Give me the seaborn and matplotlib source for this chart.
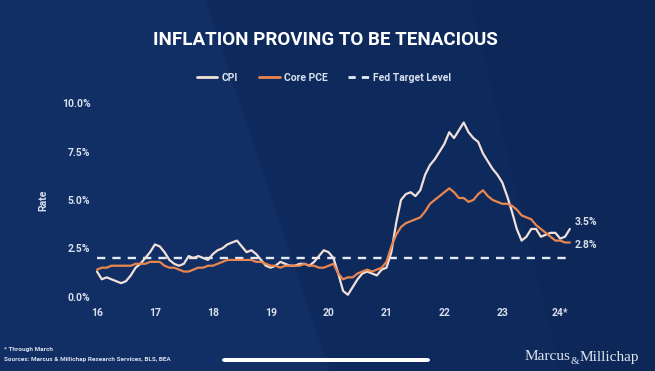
import numpy as np
import pandas as pd
import matplotlib
matplotlib.use("Agg")
import matplotlib.pyplot as plt
import matplotlib.font_manager as fm
import seaborn as sns
from matplotlib.patches import FancyBboxPatch, Polygon
from matplotlib.lines import Line2D

# ---------------- data ----------------
start_year = 16  # Jan 2016
cpi = [
    1.3, 0.9, 1.0, 0.9, 0.8, 0.7, 0.8, 1.1, 1.5, 1.7, 2.0, 2.3,   # 2016
    2.7, 2.6, 2.3, 1.9, 1.7, 1.6, 1.7, 2.1, 2.0, 2.1, 2.0, 1.9,   # 2017
    2.2, 2.4, 2.5, 2.7, 2.8, 2.9, 2.6, 2.3, 2.4, 2.2, 1.9, 1.6,   # 2018
    1.5, 1.6, 1.8, 1.7, 1.6, 1.6, 1.7, 1.7, 1.6, 1.8, 2.1, 2.4,   # 2019
    2.3, 2.0, 1.2, 0.3, 0.1, 0.5, 0.9, 1.2, 1.3, 1.2, 1.1, 1.4,   # 2020
    1.5, 2.3, 3.8, 5.0, 5.3, 5.4, 5.2, 5.5, 6.3, 6.8, 7.1, 7.5,   # 2021
    7.9, 8.5, 8.2, 8.6, 9.0, 8.5, 8.2, 8.0, 7.4, 7.0, 6.6, 6.3,   # 2022
    5.9, 5.2, 4.4, 3.5, 2.9, 3.1, 3.5, 3.5, 3.1, 3.2, 3.3, 3.3,   # 2023
    3.0, 3.1, 3.5,                                                # 2024 (through March)
]
core_pce = [
    1.4, 1.5, 1.5, 1.6, 1.6, 1.6, 1.6, 1.6, 1.7, 1.7, 1.7, 1.8,   # 2016
    1.8, 1.8, 1.6, 1.5, 1.5, 1.4, 1.3, 1.3, 1.4, 1.5, 1.5, 1.6,   # 2017
    1.6, 1.7, 1.8, 1.9, 1.9, 1.9, 1.9, 1.9, 1.9, 1.8, 1.8, 1.7,   # 2018
    1.6, 1.6, 1.5, 1.6, 1.6, 1.6, 1.6, 1.7, 1.6, 1.6, 1.5, 1.5,   # 2019
    1.6, 1.7, 1.2, 0.9, 1.0, 1.0, 1.2, 1.3, 1.4, 1.3, 1.4, 1.5,   # 2020
    1.8, 2.6, 3.2, 3.6, 3.8, 3.9, 4.0, 4.1, 4.4, 4.8, 5.0, 5.2,   # 2021
    5.4, 5.6, 5.4, 5.1, 5.1, 4.9, 5.0, 5.3, 5.5, 5.2, 5.0, 4.9,   # 2022
    4.8, 4.8, 4.7, 4.5, 4.2, 4.1, 4.0, 3.7, 3.5, 3.3, 3.1, 2.9,   # 2023
    2.9, 2.8, 2.8,                                                # 2024
]
fed_target = 2.0
series_names = ["CPI", "Core PCE"]
legend_labels = ["CPI", "Core PCE", "Fed Target Level"]
x_ticks = [16, 17, 18, 19, 20, 21, 22, 23, 24]
x_tick_labels = ["16", "17", "18", "19", "20", "21", "22", "23", "24*"]
y_ticks = [0.0, 2.5, 5.0, 7.5, 10.0]
end_labels = ["3.5%", "2.8%"]


def FP(size, weight="bold"):
    return fm.FontProperties(family=["Roboto", "DejaVu Sans"], weight=weight, size=size)


# ---------------- styling ----------------
BG = "#0e2a5c"
TXT = "#d9e0ee"
CPI_C = "#f2e0da"
PCE_C = "#e98650"
FED_C = "#e3ebf6"

sns.set_theme(style="white")
plt.rcParams["font.family"] = ["Roboto", "DejaVu Sans"]

W, H = 655, 371
fig = plt.figure(figsize=(W / 100, H / 100), dpi=100, facecolor=BG)

# subtle lighter diagonal band in background
band = Polygon([(0, 1), (205 / W, 1), (330 / W, 0), (0, 0)], closed=True,
               transform=fig.transFigure, facecolor="#112f64", edgecolor="none", zorder=-10)
fig.patches.append(band)
band3 = Polygon([(470 / W, 1), (W / W, 1), (1, 0), (560 / W, 0)], closed=True,
                transform=fig.transFigure, facecolor="#0d2858", edgecolor="none", zorder=-10)
fig.patches.append(band3)

L, R, T, B = 96, 600, 100, 298
ax = fig.add_axes([L / W, 1 - B / H, (R - L) / W, (B - T) / H])
ax.set_facecolor("none")
ax.set_zorder(5)

n = len(cpi)
t = start_year + np.arange(n) / 12.0
df = pd.DataFrame({
    "t": np.concatenate([t, t]),
    "rate": np.concatenate([cpi, core_pce]),
    "series": [series_names[0]] * n + [series_names[1]] * n,
})

sns.lineplot(data=df, x="t", y="rate", hue="series",
             palette={series_names[0]: CPI_C, series_names[1]: PCE_C},
             linewidth=1.6, ax=ax, legend=False)
ax.hlines(fed_target, t[0], t[-1], colors=FED_C, linewidth=1.7,
          linestyles=(0, (3.5, 3.0)), zorder=1)

px_per_year = 57.9
x0 = 16 - 1 / px_per_year
ax.set_xlim(x0, x0 + (R - L) / px_per_year)
ppy = 19.35
ax.set_ylim(-(B - 296.7) / ppy, (296.7 - T) / ppy)

ax.set_xticks(x_ticks)
ax.set_xticklabels(x_tick_labels)
ax.set_yticks(y_ticks)
ax.set_yticklabels([f"{v:.1f}%" for v in y_ticks])
ax.tick_params(axis="both", length=0, colors=TXT)
ax.tick_params(axis="y", pad=4)
ax.tick_params(axis="x", pad=7)
for lab in ax.get_xticklabels() + ax.get_yticklabels():
    lab.set_fontproperties(FP(7.5))
for s in ax.spines.values():
    s.set_visible(False)
ax.grid(False)
ax.set_xlabel("")
ax.set_ylabel("Rate", color=TXT, fontproperties=FP(7.5))
ax.yaxis.set_label_coords((48 - L) / (R - L), (B - 200) / (B - T))

# end labels
ax.text(24.25, 3.88, end_labels[0], color=TXT, fontproperties=FP(7.5),
        va="center", ha="left")
ax.text(24.25, 2.67, end_labels[1], color=TXT, fontproperties=FP(7.5),
        va="center", ha="left")

# title
fig.text(325 / W, 1 - 40 / H, "INFLATION PROVING TO BE TENACIOUS", color="white",
         fontproperties=FP(13.5), ha="center", va="center")

# legend
handles = [
    Line2D([], [], color=CPI_C, lw=2.0),
    Line2D([], [], color=PCE_C, lw=2.0),
    Line2D([], [], color=FED_C, lw=2.0, linestyle=(0, (2.6, 2.2))),
]
leg = fig.legend(handles, legend_labels, loc="center",
                 bbox_to_anchor=(324 / W, 1 - 78 / H), ncol=3, frameon=False,
                 prop=FP(7.5), handlelength=2.0, columnspacing=2.0, handletextpad=0.4)
for txt in leg.get_texts():
    txt.set_color(TXT)

# footnotes
fig.text(4 / W, 1 - 350 / H, "* Through March", color=TXT, fontproperties=FP(4.6),
         ha="left", va="center")
fig.text(4 / W, 1 - 360 / H, "Sources: Marcus & Millichap Research Services, BLS, BEA",
         color=TXT, fontproperties=FP(4.6), ha="left", va="center")

# logo: "Marcus" + small "&" + "Millichap"
LOGO_C = "#dfe5ef"
fig.text(570 / W, 1 - 357 / H, "Marcus", color=LOGO_C, fontsize=11,
         family="Liberation Serif", ha="right", va="center")
fig.text(575 / W, 1 - 361 / H, "&", color=LOGO_C, fontsize=8,
         family="Liberation Serif", ha="center", va="center")
fig.text(580 / W, 1 - 357 / H, "Millichap", color=LOGO_C, fontsize=11,
         family="Liberation Serif", ha="left", va="center")

# home-indicator bar
bar = FancyBboxPatch((222 / W, 1 - 362 / H), 208 / W, 4 / H,
                     boxstyle="round,pad=0,rounding_size=0.005",
                     transform=fig.transFigure, facecolor="white", edgecolor="none",
                     zorder=10)
fig.patches.append(bar)

fig.savefig("out.png", dpi=100, facecolor=BG)
